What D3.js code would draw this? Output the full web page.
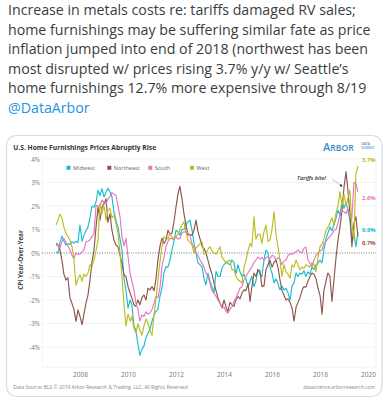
<!DOCTYPE html>
<html><head><meta charset="utf-8">
<script src="https://cdn.jsdelivr.net/npm/d3@7"></script>
<style>body{margin:0;background:#fff}svg{display:block}</style>
</head><body><svg id="c" width="388" height="400"></svg>
<script>
const tweetLines = [
  "Increase in metals costs re: tariffs damaged RV sales;",
  "home furnishings may be suffering similar fate as price",
  "inflation jumped into end of 2018 (northwest has been",
  "most disrupted w/ prices rising 3.7% y/y w/ Seattle\u2019s",
  "home furnishings 12.7% more expensive through 8/19"
];
const tweetHandle = "@DataArbor";
const chartTitle = "U.S. Home Furnishings Prices Abruptly Rise";
const seriesNames = ["Midwest", "Northeast", "South", "West"];
const yTicks = [-4, -3, -2, -1, 0, 1, 2, 3, 4];
const xTickYears = [2008, 2010, 2012, 2014, 2016, 2018, 2020];
const startYear = 2007, startMonth = 0; // Jan 2007, monthly

const midwest = [
  0.05, 0.0, 0.45, 0.72, 0.5, 0.34, 0.4, 0.36, 0.48, 0.42, 0.5, 0.45,
  1.19, 0.5, 0.75, 0.95, 1.1, 1.5, 2.0, 1.95, 2.17, 2.67, 2.45, 2.74,
  2.39, 2.6, 2.75, 2.6, 2.39, 1.75, 1.4, 1.1, 0.6, 0.13, -1.1, -1.6,
  -2.34, -2.0, -2.2, -3.1, -3.3, -3.9, -4.35, -4.1, -3.95, -3.6, -3.4, -3.26,
  -2.9, -2.63, -2.49, -2.4, -1.85, -1.5, -0.85, -0.58, -0.6, -0.3, 0.13, 0.5,
  0.97, 0.9, 0.76, 1.0, 1.0, 1.19, 1.33, 1.4, 0.97, 0.42, 0.0, -0.42,
  -0.5, -0.6, -1.07, -1.36, -0.85, -1.2, -1.43, -1.7, -0.79, -1.0, -1.0, -0.64,
  -0.5, -0.37, -0.45, -0.5, -0.3, -0.4, -0.9, -0.5, -0.8, -1.0, -0.9, -1.1,
  -1.43, -1.2, -1.0, -1.43, -1.2, -0.7, -0.9, -1.0, -0.3, 0.13, 0.0, -0.6,
  -0.85, -1.27, -1.1, -1.3, -1.57, -1.4, -1.57, -1.5, -1.7, -2.0, -1.4, -1.27,
  -0.85, -1.0, -0.85, -0.9, -0.75, -1.0, -0.8, -0.9, -0.6, -0.7, -0.5, -0.42,
  -0.3, -0.42, 0.13, 0.6, 0.85, 1.1, 0.95, 1.2, 1.48, 1.82, 1.6, 2.25,
  1.9, 2.17, 1.8, 1.4, 0.48, 0.85, 0.27, 0.9
];
const northeast = [
  0.42, 0.34, 0.15, -0.3, -0.9, -1.15, -1.05, -1.9, -2.15, -2.4, -2.91, -2.42,
  -2.7, -3.05, -2.6, -2.13, -1.8, -1.14, -0.4, 0.13, 1.1, 1.96, 1.4, 1.96,
  2.1, 2.3, 1.3, 1.68, 0.97, 0.55, 0.34, 0.27, -0.1, -0.44, -0.93, -1.0,
  -1.43, -1.7, -1.92, -2.2, -2.27, -2.0, -2.2, -1.9, -1.78, -2.0, -1.5, -1.57,
  -1.43, -1.6, -1.14, -0.3, 0.27, 0.63, 0.4, 0.55, 0.97, 0.8, 0.85, 1.33,
  1.96, 2.53, 2.84, 2.3, 1.68, 1.2, 0.76, 0.8, 0.75, 0.97, 1.4, 0.9,
  0.6, 0.27, 0.2, 0.0, -0.3, -0.64, -0.9, -1.27, -1.6, -1.92, -2.13, -2.34,
  -2.0, -2.3, -2.49, -2.1, -2.2, -2.27, -2.0, -1.85, -1.95, -1.7, -1.57, -1.6,
  -1.3, -2.06, -1.43, -0.85, -1.0, -0.72, -0.75, -1.43, -1.4, -0.72, -0.5, -0.3,
  -0.6, -0.4, -0.3, -0.6, -1.14, -1.6, -1.8, -2.0, -1.95, -2.1, -2.34, -2.9,
  -2.3, -2.1, -1.9, -1.6, -1.43, -1.45, -1.2, -1.0, -0.85, -0.9, -1.1, -1.5,
  -1.8, -2.6, -1.6, -1.2, -0.85, -1.0, -2.06, -1.14, -0.2, 0.55, 1.1, 1.82,
  2.8, 3.45, 2.67, 1.68, 0.27, 1.26, 1.54, 0.7
];
const south = [
  0.3, 0.34, 0.2, 0.5, 0.62, 0.45, 0.3, 0.13, -0.1, -0.23, 0.0, -0.05,
  -0.05, 0.05, 0.13, 0.48, 0.5, 0.55, 0.7, 0.83, 2.03, 2.0, 2.03, 2.25,
  2.15, 2.1, 2.3, 2.39, 2.57, 2.5, 2.46, 2.0, 1.54, 0.69, 0.3, 0.62,
  -0.16, -0.86, -1.2, -1.57, -2.13, -2.4, -2.9, -2.63, -2.7, -2.5, -2.6, -2.55,
  -2.4, -2.13, -1.85, -1.9, -1.5, -0.58, -0.2, 0.27, 0.5, 0.62, 0.62, 0.55,
  0.7, 0.6, 0.62, 0.85, 0.9, 0.9, 0.85, 0.75, 0.41, 0.2, 0.0, -0.1,
  -0.3, -0.44, -0.6, -0.86, -1.0, -1.28, -1.6, -1.71, -1.85, -2.0, -2.13, -2.34,
  -2.3, -2.49, -2.56, -2.4, -2.3, -2.06, -1.9, -1.7, -1.5, -1.43, -1.14, -1.0,
  -0.85, -0.7, -0.58, -0.4, -0.3, -0.16, -0.25, -0.2, -0.3, -0.2, -0.16, -0.23,
  -0.1, -0.15, -0.3, -0.2, -0.25, -0.5, -0.35, -0.3, -0.1, -0.05, -0.05, 0.0,
  0.05, 0.13, 0.05, 0.0, 0.2, 0.25, -0.3, -0.45, -0.58, -0.3, -0.1, 0.0,
  0.1, 0.13, 0.41, 0.5, 0.6, 0.7, 0.8, 0.97, 1.0, 1.26, 1.68, 1.82,
  1.75, 1.68, 1.89, 1.54, 1.5, 3.0, 2.95, 2.6
];
const west = [
  1.19, 1.4, 1.65, 1.5, 1.1, 0.85, 0.7, 0.55, 0.27, -0.3, -1.38, -1.1,
  -0.93, -1.2, -0.9, -1.0, -0.85, -0.5, -0.6, -0.3, 0.1, 0.55, 2.1, 1.7,
  2.0, 1.4, 1.8, 1.9, 1.5, 1.6, 1.26, 0.85, 0.0, -1.0, -2.2, -3.1,
  -2.6, -2.9, -2.7, -3.2, -3.4, -3.0, -3.3, -3.5, -3.1, -2.8, -3.0, -3.3,
  -3.5, -2.6, -2.0, -1.14, -0.4, 0.27, 0.69, 0.6, 0.6, 0.83, 0.7, 0.6,
  0.7, 0.8, 1.0, 1.19, 1.33, 0.9, 0.55, 0.45, 0.35, 0.0, 0.2, 0.3,
  0.4, 0.48, -0.05, 0.0, 0.15, 0.27, 0.1, 0.0, -0.05, 0.1, 0.27, -0.2,
  -0.3, -0.44, -0.35, -0.3, -0.72, -0.7, -1.0, -1.14, -1.2, -1.28, -0.6, -0.3,
  0.1, 0.41, 0.27, 1.54, 0.6, 0.8, 0.8, 0.41, 0.9, 1.19, 0.5, 0.55,
  1.0, 1.75, 0.8, 0.27, -0.3, -1.0, -0.5, -0.8, -0.9, -1.07, -0.5, -0.6,
  -0.3, -0.5, -0.72, -0.6, -0.65, -0.5, -0.55, -0.6, -0.4, -0.5, -0.79, -0.2,
  0.27, 0.4, 0.6, 0.97, 1.1, 1.26, 1.5, 1.19, 1.7, 2.0, 2.6, 2.0,
  2.5, 2.0, 2.32, 2.67, 1.26, 0.55, 3.38, 3.7
];
const endLabels = ["0.9%", "0.7%", "2.6%", "3.7%"];
const annotationText = "Tariffs bite!";
const sourceText = "Data Source: BLS  \u00a9 2019 Arbor Research & Trading, LLC. All Rights Reserved";
const siteText = "datascience.arborresearch.com";

const colors = ["#17becf", "#8c564b", "#e377c2", "#bcbd22"];
const allSeries = [midwest, northeast, south, west];

const svg = d3.select("#c");
const FONT = "'Open Sans', 'Noto Sans', sans-serif";

function fit(sel, target) {
  const node = sel.node();
  const fs = parseFloat(sel.attr("font-size"));
  const w = node.getComputedTextLength();
  if (w > 0) sel.attr("font-size", (fs * target / w).toFixed(3));
  return sel;
}

// Tweet text
const tweetWidths = [302, 363, 362, 337, 354];
const baselines = [15, 34.6, 54.2, 73.8, 93.2, 112.6];
let tfs = 14;
const probe = svg.append("text").attr("font-family", FONT).attr("font-size", 14).text(tweetLines[1]);
tfs = 14 * 363 / probe.node().getComputedTextLength();
probe.remove();
tweetLines.forEach((t, i) => {
  svg.append("text").attr("x", 8).attr("y", baselines[i])
    .attr("font-family", FONT).attr("font-size", tfs.toFixed(3))
    .attr("fill", "#3a3d40").text(t);
});
svg.append("text").attr("x", 8).attr("y", baselines[5])
  .attr("font-family", FONT).attr("font-size", tfs.toFixed(3))
  .attr("fill", "#1b95e0").text(tweetHandle);

// Card
svg.append("rect").attr("x", 6.5).attr("y", 135.5).attr("width", 375.5).attr("height", 261)
  .attr("rx", 10).attr("fill", "#fff").attr("stroke", "#d6dde3").attr("stroke-width", 1.2);

// Title
fit(svg.append("text").attr("x", 13.3).attr("y", 149.6).attr("font-family", FONT)
  .attr("font-weight", 700).attr("font-size", 7).attr("fill", "#333").text(chartTitle), 143);

// Logo
const logo = svg.append("text").attr("x", 323).attr("y", 150.5).attr("font-family", FONT)
  .attr("font-weight", 600).attr("fill", "#3d8bc4");
logo.append("tspan").attr("font-size", 11).text("A");
logo.append("tspan").attr("font-size", 8.6).text("RBOR");
fit(logo, 37);
svg.append("text").attr("x", 361.5).attr("y", 144.5).attr("font-family", FONT).attr("font-size", 3.2)
  .attr("fill", "#3d8bc4").attr("font-weight", 600).text("DATA");
svg.append("text").attr("x", 361.5).attr("y", 148.8).attr("font-family", FONT).attr("font-size", 3.2)
  .attr("fill", "#3d8bc4").attr("font-weight", 600).text("SCIENCE");

// Scales
const x = d3.scaleTime().domain([new Date(2008, 0, 1), new Date(2020, 0, 1)]).range([80, 368]);
const y = d3.scaleLinear().domain([-4.85, 4.17]).range([367, 155]);
const plotL = 42, plotR = 376;

// grid
const g = svg.append("g");
g.selectAll("line.grid").data(yTicks.filter(d => d !== 0)).join("line")
  .attr("x1", plotL).attr("x2", plotR).attr("y1", d => y(d)).attr("y2", d => y(d))
  .attr("stroke", "#f0f0f0").attr("stroke-width", 0.8);
g.append("line").attr("x1", plotL).attr("x2", plotR).attr("y1", y.range()[0]).attr("y2", y.range()[0])
  .attr("stroke", "#ececec").attr("stroke-width", 0.8);
g.append("line").attr("x1", plotL).attr("x2", plotL).attr("y1", y.range()[1]).attr("y2", y.range()[0])
  .attr("stroke", "#f0f0f0").attr("stroke-width", 0.8);
g.append("line").attr("x1", plotR).attr("x2", plotR).attr("y1", y.range()[1]).attr("y2", y.range()[0])
  .attr("stroke", "#f0f0f0").attr("stroke-width", 0.8);

// y axis
const yAxis = svg.append("g").attr("transform", `translate(${plotL},0)`)
  .call(d3.axisLeft(y).tickValues(yTicks).tickFormat(d => d + "%").tickSize(0).tickPadding(2));
yAxis.select(".domain").remove();
yAxis.selectAll("text").attr("font-family", FONT).attr("font-size", 6.3).attr("fill", "#777");

// x axis
const xAxis = svg.append("g").attr("transform", `translate(0,${y.range()[0]})`)
  .call(d3.axisBottom(x).tickValues(xTickYears.map(yv => new Date(yv, 0, 1)))
    .tickFormat(d3.timeFormat("%Y")).tickSize(0).tickPadding(5.5));
xAxis.select(".domain").remove();
xAxis.selectAll("text").attr("font-family", FONT).attr("font-size", 6.5).attr("fill", "#777");

// y title
svg.append("text").attr("transform", "translate(22.5,260) rotate(-90)").attr("text-anchor", "middle")
  .attr("font-family", FONT).attr("font-weight", 700).attr("font-size", 6.3).attr("fill", "#444")
  .text("CPI Year-Over-Year");

// zero line
svg.append("line").attr("x1", plotL).attr("x2", plotR).attr("y1", y(0)).attr("y2", y(0))
  .attr("stroke", "#555").attr("stroke-width", 0.8).attr("stroke-dasharray", "1,1.4");

// lines
const line = d3.line()
  .x((d, i) => x(new Date(startYear, startMonth + i, 1)))
  .y(d => y(d));
allSeries.forEach((s, k) => {
  svg.append("path").datum(s).attr("d", line).attr("fill", "none")
    .attr("stroke", colors[k]).attr("stroke-width", 1.15).attr("stroke-linejoin", "round");
});

// legend
const legX = [66.5, 107.3, 148.3, 190];
seriesNames.forEach((n, k) => {
  svg.append("rect").attr("x", legX[k]).attr("y", 165.8).attr("width", 4).attr("height", 4).attr("fill", colors[k]);
  svg.append("text").attr("x", legX[k] + 6.5).attr("y", 169.9).attr("font-family", FONT)
    .attr("font-size", 5.6).attr("fill", "#666").text(n);
});

// end labels
const endLabelY = [232, 244.8, 199.5, 162];
endLabels.forEach((t, k) => {
  svg.append("text").attr("x", 362).attr("y", endLabelY[k]).attr("font-family", FONT)
    .attr("font-weight", 700).attr("font-size", 5.8).attr("fill", colors[k]).text(t);
});

// annotation
svg.append("text").attr("x", 297).attr("y", 180.3).attr("font-family", FONT).attr("font-style", "italic")
  .attr("font-weight", 600).attr("font-size", 5.6).attr("fill", "#333").text(annotationText);
svg.append("defs").append("marker").attr("id", "ah").attr("viewBox", "0 0 10 10").attr("refX", 8).attr("refY", 5)
  .attr("markerWidth", 5).attr("markerHeight", 5).attr("orient", "auto")
  .append("path").attr("d", "M0,0L10,5L0,10z").attr("fill", "#222");
svg.append("line").attr("x1", 333).attr("y1", 179.5).attr("x2", 342).attr("y2", 186.5)
  .attr("stroke", "#444").attr("stroke-width", 0.6).attr("stroke-dasharray", "1.2,0.8").attr("marker-end", "url(#ah)");

// footer
fit(svg.append("text").attr("x", 13.3).attr("y", 389).attr("font-family", FONT).attr("font-size", 4.5)
  .attr("fill", "#888").text(sourceText), 175);
const site = svg.append("text").attr("x", 375).attr("y", 389).attr("text-anchor", "end").attr("font-family", FONT)
  .attr("font-size", 4.5).attr("fill", "#888").text(siteText);
fit(site, 72);
</script></body></html>
